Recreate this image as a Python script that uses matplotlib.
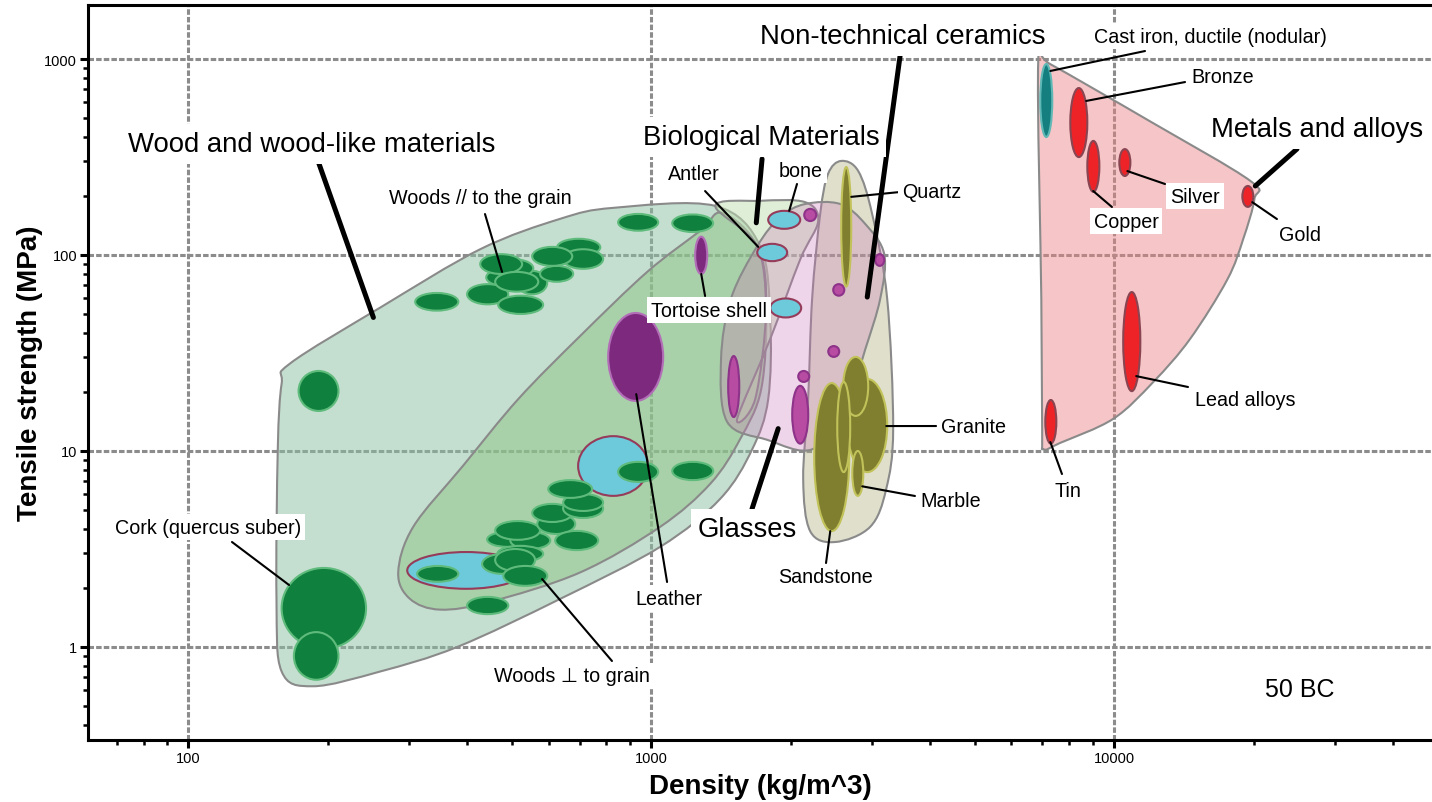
import numpy as np
import matplotlib
matplotlib.use("Agg")
import matplotlib.pyplot as plt
from matplotlib import ticker
from matplotlib.colors import to_rgb
from matplotlib.patches import Ellipse, PathPatch
from matplotlib.path import Path

plt.rcParams["font.family"] = ["Liberation Sans", "DejaVu Sans"]

# Envelope outlines, (density kg/m^3, tensile strength MPa)
wood_outer = [(166, 28), (260, 54), (427, 107), (636, 153), (828, 174), (1375, 178),
              (1719, 111), (1807, 47), (1789, 18.4), (1652, 10.2), (1409, 5.7),
              (1045, 3.24), (636, 1.76), (381, 1.0), (260, 0.75), (186, 0.63),
              (159, 0.75), (155, 1.76), (156, 10.2), (159, 22)]
wood_inner = [(284, 2.4), (306, 4.1), (392, 8.4), (516, 18.4), (702, 38.6), (980, 82),
              (1276, 133), (1423, 164), (1694, 111), (1771, 53), (1728, 20.7),
              (1556, 11.5), (1341, 6.8), (1045, 4.1), (702, 2.4), (449, 1.7),
              (350, 1.55), (301, 1.76)]
bio_env = [(1375, 178), (1719, 189), (2150, 186), (2294, 149), (2098, 95), (1807, 37.3),
           (1533, 14.6), (1677, 18.4), (1771, 53), (1694, 111)]
ceramic_env = [(2572, 302), (2800, 268), (3000, 162), (3233, 60), (3331, 13), (3218, 6.4),
               (2971, 4.1), (2496, 3.43), (2204, 3.9), (2129, 7.2), (2182, 18.4),
               (2226, 60), (2317, 162), (2409, 259)]
glass_env = [(1694, 111), (1899, 156), (2150, 182), (2560, 182), (2899, 144), (3186, 101),
             (3124, 60), (2899, 33), (2624, 16.4), (2227, 10.2), (1780, 11.4),
             (1458, 14.1), (1415, 29.5), (1487, 60)]
metal_env = [(6855, 977), (7270, 943), (11970, 480), (19680, 239), (20090, 193),
             (19010, 121), (17560, 75), (14590, 37.3), (12150, 22.5), (9960, 14.6),
             (7650, 11.0), (7040, 10.2), (6990, 12.5), (6960, 60)]

# Material bubbles: (density low, density high, strength low, strength high)
woods_parallel = [(173, 211, 16, 25.6),
                  (440, 529, 69.5, 85), (513, 596, 63, 83), (460, 556, 77, 95),
                  (427, 526, 80, 101), (309, 383, 52, 64), (400, 491, 56, 71),
                  (467, 584, 50, 62), (575, 678, 73, 88), (626, 776, 99, 121),
                  (645, 787, 85, 107), (553, 675, 88, 110), (460, 570, 65, 82),
                  (848, 1035, 133, 162), (1110, 1360, 131, 161)]
woods_perp = [(442, 539, 3.24, 3.86), (496, 605, 3.16, 3.86), (460, 575, 3.52, 4.39),
              (567, 685, 3.77, 4.77), (553, 675, 4.34, 5.37), (645, 787, 4.55, 5.69),
              (645, 787, 4.94, 6.03), (599, 745, 5.76, 7.1), (620, 768, 3.12, 3.91),
              (465, 584, 2.72, 3.28), (431, 526, 2.36, 2.98), (460, 561, 2.44, 3.16),
              (312, 383, 2.15, 2.59), (479, 596, 2.05, 2.59), (400, 491, 1.47, 1.80),
              (848, 1035, 6.95, 8.8), (1110, 1361, 7.1, 8.8)]
cork = [(159, 242, 0.98, 2.53), (169, 211, 0.68, 1.19)]
bio_blue = [(695, 985, 5.9, 11.9), (297, 534, 1.98, 3.05), (1789, 2098, 136, 168),
            (1694, 1966, 93, 114), (1807, 2108, 48, 60)]
bio_purple = [(807, 1061, 18, 50.6), (1244, 1321, 80, 124)]
glass_bubbles = [(2140, 2272, 149, 172), (3046, 3186, 88, 101), (2472, 2612, 62, 71),
                 (2412, 2547, 30.2, 34.3), (2077, 2194, 22.5, 25.6),
                 (2016, 2183, 10.9, 21.5), (1466, 1549, 14.9, 30.5)]
stone_bubbles = [(2651, 3234, 7.8, 23.3), (2598, 2942, 15.1, 30.2), (2249, 2677, 3.9, 22.2),
                 (2522, 2690, 7.8, 22.5), (2718, 2871, 5.9, 10), (2572, 2704, 69, 281)]
cast_iron = [(6924, 7350, 400, 943)]
metal_bubbles = [(8040, 8750, 316, 711), (8750, 9290, 210, 382), (10260, 10840, 253, 347),
                 (18920, 19980, 176, 225), (10460, 11390, 20.2, 64.7), (7100, 7500, 10.9, 18.2)]

fig = plt.figure(figsize=(14.32, 8.03), dpi=100)
ax = fig.add_axes([0.0617, 0.0772, 0.9383, 0.9153])
ax.set_xscale("log")
ax.set_yscale("log")
ax.set_xlim(60.8, 48600)
ax.set_ylim(0.335, 1886)
ax.set_autoscale_on(False)

# shapes are laid out in log10 units
logt = ax.transLimits + ax.transAxes


def outline(points):
    p = np.log10(np.asarray(points, float))
    n = len(p)
    verts, codes = [p[0]], [Path.MOVETO]
    for i in range(n):
        a, b, c, d = p[i - 1], p[i], p[(i + 1) % n], p[(i + 2) % n]
        verts += [b + (c - a) / 6, c - (d - b) / 6, c]
        codes += [Path.CURVE4] * 3
    return Path(verts, codes)


def envelope(points, color, alpha):
    ax.add_patch(PathPatch(outline(points), transform=logt,
                           facecolor=(*to_rgb(color), alpha),
                           edgecolor="#8a8a8a", lw=1.5, zorder=1))


def bubbles(rows, face, edge, lw=1.5):
    for r0, r1, s0, s1 in rows:
        x0, x1, y0, y1 = np.log10([r0, r1, s0, s1])
        ax.add_patch(Ellipse(((x0 + x1) / 2, (y0 + y1) / 2), x1 - x0, y1 - y0,
                             transform=logt, fc=face, ec=edge, lw=lw, zorder=3))


envelope(wood_outer, "#8bc1a3", 0.5)
envelope(wood_inner, "#8dc483", 0.5)
envelope(bio_env, "#c1e1b1", 0.5)
envelope(ceramic_env, "#afaf80", 0.4)
envelope(glass_env, "#cd76b9", 0.3)
envelope(metal_env, "#ed8083", 0.45)

bubbles(bio_blue, "#6dcadb", "#963b5a")
bubbles(woods_parallel, "#10803e", "#5fbb7c")
bubbles(woods_perp, "#10803e", "#5fbb7c")
bubbles(cork, "#10803e", "#5fbb7c")
bubbles(bio_purple, "#7d2a7e", "#b26fb7")
bubbles(glass_bubbles, "#b84ca2", "#8d3389")
bubbles(stone_bubbles, "#7f7f2f", "#c2c25a")
bubbles(cast_iron, "#157f80", "#5fb8b5")
bubbles(metal_bubbles, "#ee2327", "#8a4552")


def label(text, pos, size, pad=0.2):
    ax.text(*pos, text, transform=ax.transAxes, ha="center", va="center",
            fontsize=size, zorder=6,
            bbox=dict(boxstyle=f"square,pad={pad}", fc="white", ec="none"))


def leader(start, end, lw=1.5):
    ax.annotate("", xy=end, xytext=start, textcoords="axes fraction", zorder=5,
                arrowprops=dict(arrowstyle="-", lw=lw, color="black",
                                shrinkA=0, shrinkB=0))


big, small = 19.8, 14.2

# family labels
label("Wood and wood-like materials", (0.1665, 0.8109), big, 0.25)
leader((0.1712, 0.7864), (251, 48), 3.6)
label("Biological Materials", (0.5006, 0.8204), big, 0.25)
leader((0.5014, 0.7905), (1686, 146), 3.6)
label("Non-technical ceramics", (0.6063, 0.9578), big, 0.25)
leader((0.6041, 0.9306), (2928, 61), 3.6)
label("Glasses", (0.4902, 0.2871), big, 0.25)
leader((0.4939, 0.3143), (1880, 13), 3.6)
label("Metals and alloys", (0.9144, 0.8313), big, 0.25)
leader((0.8995, 0.8041), (20180, 225), 3.6)

# material labels
label("Woods // to the grain", (0.2915, 0.7388), small)
leader((0.2952, 0.7156), (476, 82))
label("Antler", (0.4508, 0.7701), small)
leader((0.4590, 0.7469), (1702, 110))
label("bone", (0.5304, 0.7755), small)
leader((0.5274, 0.7565), (1986, 168))
label("Quartz", (0.6279, 0.7469), small)
leader((0.6041, 0.7456), (2704, 198))
label("Tortoise shell", (0.4619, 0.5850), small)
leader((0.4590, 0.6041), (1282, 80))
label("Leather", (0.4322, 0.1932), small)
leader((0.4307, 0.2150), (928, 19.5))
label("Woods \u22a5 to grain", (0.3600, 0.0871), small)
leader((0.3897, 0.1075), (581, 2.22))
label("Cork (quercus suber)", (0.0891, 0.2898), small)
leader((0.1069, 0.2694), (165, 2.07))
label("Cast iron, ductile (nodular)", (0.8348, 0.9578), small)
leader((0.7864, 0.9374), (7280, 869))
label("Bronze", (0.8445, 0.9034), small)
leader((0.8162, 0.8952), (8700, 611))
label("Copper", (0.7723, 0.7061), small)
leader((0.7618, 0.7252), (9010, 212))
label("Silver", (0.8236, 0.7401), small)
leader((0.8013, 0.7565), (10680, 268))
label("Gold", (0.9018, 0.6884), small)
leader((0.8846, 0.7088), (19880, 186))
label("Lead alloys", (0.8608, 0.4639), small)
leader((0.8184, 0.4803), (11160, 24.1))
label("Tin", (0.7291, 0.3401), small)
leader((0.7246, 0.3619), (7280, 11.1))
label("Granite", (0.6584, 0.4259), small)
leader((0.6309, 0.4272), (3218, 13.4))
label("Marble", (0.6420, 0.3252), small)
leader((0.6152, 0.3320), (2856, 6.6))
label("Sandstone", (0.5483, 0.2218), small)
leader((0.5490, 0.2408), (2436, 3.9))

ax.text(0.9018, 0.0694, "50 BC", transform=ax.transAxes, ha="center", va="center",
        fontsize=18, zorder=6)

# axes styling
fmt = ticker.FuncFormatter(lambda v, _: f"{v:.0f}")
for axis in (ax.xaxis, ax.yaxis):
    axis.set_major_formatter(fmt)
    axis.set_minor_formatter(ticker.NullFormatter())
ax.tick_params(which="major", length=6, width=2.2, labelsize=10.5, pad=2)
ax.tick_params(which="minor", length=3.5, width=1.8)
ax.grid(True, which="major", color="#8c8c8c", lw=2.2, ls=(0, (1.8, 0.7)))
ax.grid(False, which="minor")
ax.set_axisbelow(True)
for side in ("left", "bottom", "top"):
    ax.spines[side].set_linewidth(2.2)
ax.spines["right"].set_visible(False)

ax.set_xlabel("Density (kg/m^3)", fontsize=20, fontweight="bold", labelpad=6)
ax.set_ylabel("Tensile strength (MPa)", fontsize=20, fontweight="bold", labelpad=1)

fig.savefig("out.png", dpi=100)
